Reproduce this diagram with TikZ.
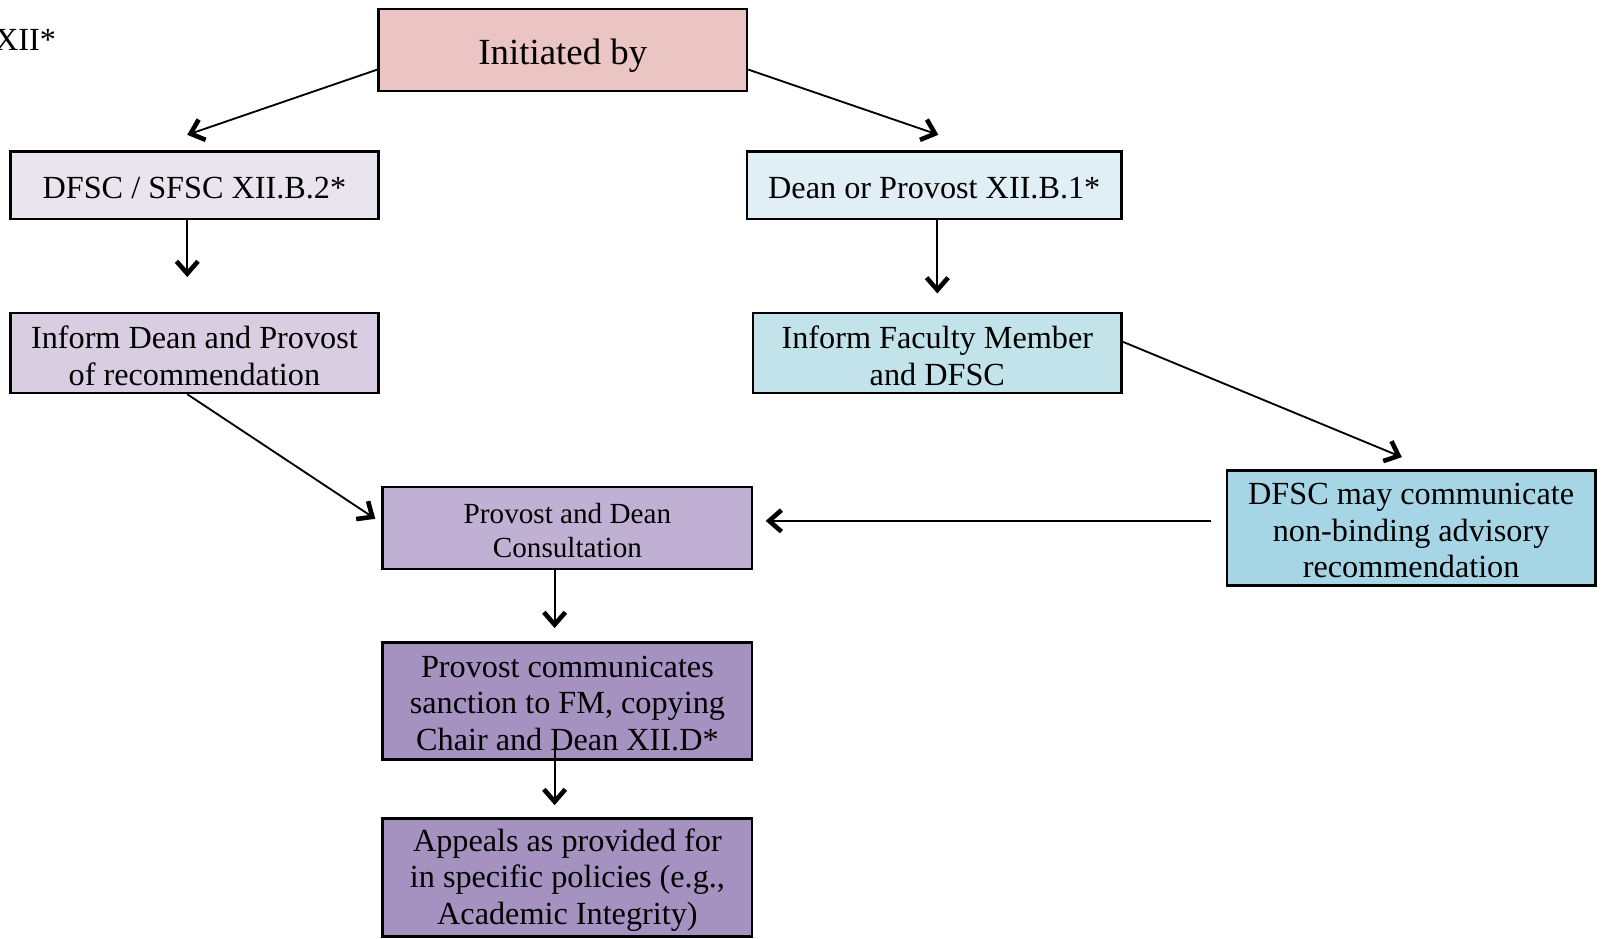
\documentclass[tikz,border=0pt]{standalone}
\usepackage{fontspec}
\setmainfont{Liberation Serif}
\usetikzlibrary{arrows.meta,calc}
\definecolor{cInit}{HTML}{EBC4C4}
\definecolor{cDfsc}{HTML}{EAE4EF}
\definecolor{cDean}{HTML}{DFEFF5}
\definecolor{cInfD}{HTML}{D8CDE1}
\definecolor{cInfF}{HTML}{C3E3EB}
\definecolor{cCons}{HTML}{C0B1D4}
\definecolor{cAdv}{HTML}{A6D6E5}
\definecolor{cDeep}{HTML}{A592C1}
\tikzset{
  box/.style={draw=black, line width=2.5pt, inner sep=0pt, minimum width=360pt},
  txt/.style={align=center, inner sep=0pt, yshift=-2.5pt,
    font=\fontsize{31.5}{36}\selectfont},
  arr/.style={line width=1.8pt, -{Straight Barb[length=12pt,width=21pt,line width=4.5pt]}},
}
\begin{document}
\begin{tikzpicture}[x=1pt,y=-1pt]
\useasboundingbox (0,0) rectangle (1567.5,916.7);
\node[anchor=east, font=\fontsize{31.5}{36}\selectfont, inner sep=0pt] (xii) at (55,39) {XII*};
\node[box, fill=cInit, minimum height=80pt,
  label={[txt, yshift=-2.5pt, font=\fontsize{36}{40}\selectfont]center:Initiated by}] (init) at (550,49) {};
\node[box, fill=cDfsc, minimum height=66pt,
  label={[txt, yshift=-0.5pt]center:DFSC / SFSC XII.B.2*}] (dfsc) at (190,181) {};
\node[box, fill=cDean, minimum height=66pt, minimum width=366pt,
  label={[txt, yshift=-0.5pt]center:Dean or Provost XII.B.1*}] (dean) at (913,181) {};
\node[box, fill=cInfD, minimum height=78pt,
  label={[txt]center:{Inform Dean and Provost\\of recommendation}}] (infd) at (190,345) {};
\node[box, fill=cInfF, minimum height=78pt,
  label={[txt]center:{Inform Faculty Member\\and DFSC}}] (inff) at (916,345) {};
\node[box, fill=cCons, minimum height=80pt, minimum width=361pt,
  label={[txt, font=\fontsize{28.5}{33}\selectfont]center:{Provost and Dean\\Consultation}}] (pdc) at (554.5,516) {};
\node[box, fill=cAdv, minimum height=112pt,
  label={[txt]center:{DFSC may communicate\\non-binding advisory\\recommendation}}] (adv) at (1379,516) {};
\node[box, fill=cDeep, minimum height=114pt, minimum width=361pt,
  label={[txt]center:{Provost communicates\\sanction to FM, copying\\Chair and Dean XII.D*}}] (pcs) at (554.5,685) {};
\node[box, fill=cDeep, minimum height=115pt, minimum width=361pt,
  label={[txt]center:{Appeals as provided for\\in specific policies (e.g.,\\Academic Integrity)}}] (app) at (554.5,857.5) {};
\coordinate (advstart) at (1183,509);
\draw[arr] ($(init.west)+(0,19)$) -- ($(dfsc.north)+(-7,-15)$);
\draw[arr] ($(init.east)+(0,19)$) -- ($(dean.north)+(4,-15)$);
\draw[arr] ($(dfsc.south)+(-7,0)$) -- ($(infd.north)+(-7,-34)$);
\draw[arr] ($(dean.south)+(3,0)$) -- ($(inff.north)+(0,-18)$);
\draw[arr] ($(infd.south)+(-7,0)$) -- ($(pdc.west)+(-6,-9)$);
\draw[arr] ($(inff.east)+(0,-11)$) -- ($(adv.north)+(-9,-12)$);
\draw[arr] (advstart) -- ($(pdc.east)+(12,-7)$);
\draw[arr] ($(pdc.south)+(-12.5,0)$) -- ($(pcs.north)+(-12.5,-13)$);
\draw[arr] ($(pcs.south)+(-12.5,-13)$) -- ($(app.north)+(-12.5,-12)$);
\end{tikzpicture}
\end{document}
